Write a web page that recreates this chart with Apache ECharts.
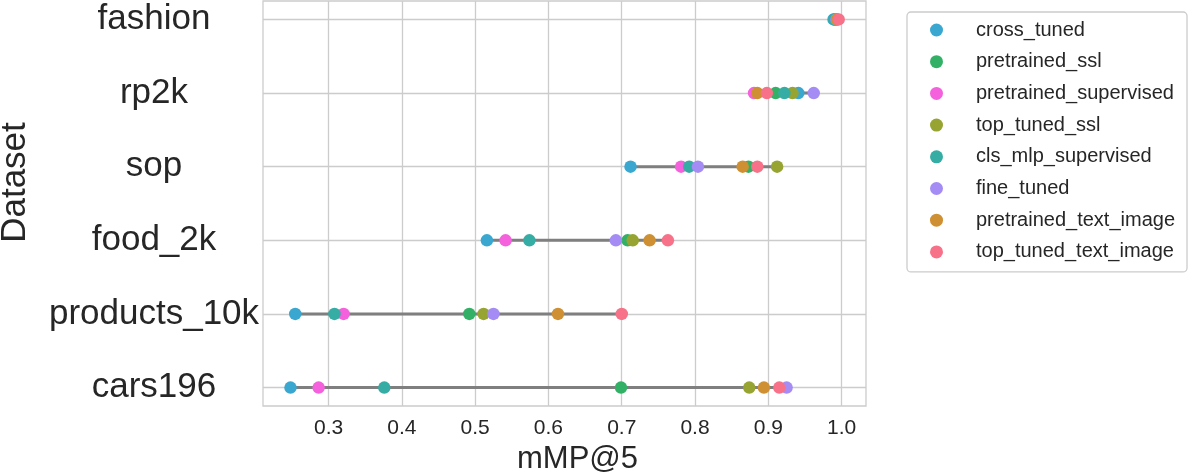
<!DOCTYPE html>
<html><head><meta charset="utf-8">
<script src="https://cdn.jsdelivr.net/npm/echarts@6/dist/echarts.min.js"></script>
<style>html,body{margin:0;padding:0;background:#fff}#c{width:1200px;height:473px}</style>
</head><body><div id="c"></div>
<script>
const datasets = ['fashion', 'rp2k', 'sop', 'food_2k', 'products_10k', 'cars196'];
const methods = ['cross_tuned', 'pretrained_ssl', 'pretrained_supervised', 'top_tuned_ssl',
  'cls_mlp_supervised', 'fine_tuned', 'pretrained_text_image', 'top_tuned_text_image'];
const colors = ['#39a7d0', '#32b166', '#f561dd', '#97a431', '#36ada4', '#a48cf4', '#ce9032', '#f77189'];

// values per method, ordered as datasets
const cross_tuned           = [0.989, 0.941, 0.712, 0.516, 0.2545, 0.248];
const pretrained_ssl        = [0.992, 0.910, 0.873, 0.708, 0.492, 0.699];
const pretrained_supervised = [0.991, 0.8805, 0.781, 0.5415, 0.3205, 0.2864];
const top_tuned_ssl         = [0.992, 0.933, 0.912, 0.715, 0.5115, 0.874];
const cls_mlp_supervised    = [0.990, 0.922, 0.792, 0.574, 0.308, 0.376];
const fine_tuned            = [0.993, 0.962, 0.804, 0.692, 0.525, 0.925];
const pretrained_text_image = [0.994, 0.885, 0.865, 0.738, 0.613, 0.894];
const top_tuned_text_image  = [0.996, 0.898, 0.885, 0.763, 0.700, 0.915];

const xTicks = [0.3, 0.4, 0.5, 0.6, 0.7, 0.8, 0.9, 1.0];
const yTicks = [0, 1, 2, 3, 4, 5];

const valueSets = [cross_tuned, pretrained_ssl, pretrained_supervised, top_tuned_ssl,
  cls_mlp_supervised, fine_tuned, pretrained_text_image, top_tuned_text_image];

const FONT = '"Liberation Sans", Arial, sans-serif';
const TXT = '#262626';
const GRIDC = '#cccccc';

const rangeData = datasets.map((d, i) => {
  const vals = valueSets.map(v => v[i]);
  return [Math.min(...vals), Math.max(...vals), i];
});

const series = [{
  type: 'custom',
  z: 1,
  silent: true,
  data: rangeData,
  encode: { x: [0, 1], y: 2 },
  renderItem: (params, api) => {
    const p1 = api.coord([api.value(0), api.value(2)]);
    const p2 = api.coord([api.value(1), api.value(2)]);
    return { type: 'line', shape: { x1: p1[0], y1: p1[1], x2: p2[0], y2: p2[1] },
      style: { stroke: '#7f7f7f', lineWidth: 3 } };
  }
}];
methods.forEach((m, k) => {
  series.push({
    name: m,
    type: 'scatter',
    z: 2,
    symbol: 'circle',
    symbolSize: 12.5,
    itemStyle: { color: colors[k], opacity: 1 },
    emphasis: { disabled: true },
    data: datasets.map((d, i) => [valueSets[k][i], i])
  });
});

const chart = echarts.init(document.getElementById('c'));
chart.setOption({
  animation: false,
  backgroundColor: '#ffffff',
  textStyle: { fontFamily: FONT },
  grid: { left: 263, top: 1, right: 334, bottom: 67, containLabel: false, outerBoundsMode: 'none',
    show: true, borderColor: GRIDC, borderWidth: 1.3, backgroundColor: '#fff' },
  xAxis: {
    type: 'value', min: 0.2105, max: 1.0333,
    axisLine: { show: false }, axisTick: { show: false, customValues: xTicks },
    splitLine: { show: true, lineStyle: { color: GRIDC, width: 1.3 } },
    axisLabel: { customValues: xTicks, formatter: v => v.toFixed(1), fontSize: 21, color: TXT, margin: 12, fontFamily: FONT },
    name: 'mMP@5', nameLocation: 'middle', nameGap: 30,
    nameTextStyle: { fontSize: 31, color: TXT, fontFamily: FONT, padding: [0, 0, 0, 26] }
  },
  yAxis: {
    type: 'value', min: -0.25, max: 5.25, inverse: true,
    axisLine: { show: false }, axisTick: { show: false, customValues: yTicks },
    splitLine: { show: true, lineStyle: { color: GRIDC, width: 1.3 } },
    axisLabel: { customValues: yTicks, formatter: v => datasets[Math.round(v)] || '', fontSize: 35, color: TXT, margin: 109, align: 'center', fontFamily: FONT, padding: [0, 0, 5, 0] },
    name: 'Dataset', nameLocation: 'middle', nameGap: 230, nameRotate: 90,
    nameTextStyle: { fontSize: 35, color: TXT, fontFamily: FONT, padding: [0, 0, 0, 42] }
  },
  legend: {
    data: methods, orient: 'vertical', left: 907, top: 12,
    icon: 'circle', itemWidth: 13, itemHeight: 13, itemGap: 11.7,
    textStyle: { fontSize: 20, lineHeight: 20, color: TXT, fontFamily: FONT, padding: [0, 0, 0, 28] },
    borderColor: GRIDC, borderWidth: 1.3, borderRadius: 4, padding: [8, 12, 10, 23],
    selectedMode: false
  },
  series: series
});
</script></body></html>
